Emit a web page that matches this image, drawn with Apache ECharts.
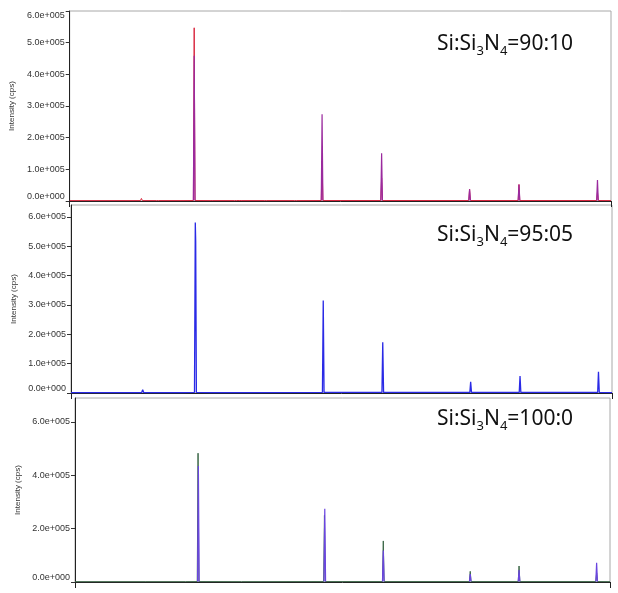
<!DOCTYPE html>
<html>
<head>
<meta charset="utf-8">
<script src="https://cdn.jsdelivr.net/npm/echarts@6/dist/echarts.min.js"></script>
<style>
  html, body { margin: 0; padding: 0; background: #fff; }
  #chart { width: 618px; height: 593px; }
</style>
</head>
<body>
<div id="chart"></div>
<script>
// 2-theta range of every scan
const xMin = 10;
const xMax = 90;

// Si:Si3N4 = 90:10  (red scan, full range)
const red9010 = [
  [10, 1200], [20.45, 1300], [20.6, 8000], [20.75, 1300], [22.85, 1300], [23.0, 3000], [23.15, 1300],
  [26.45, 1300], [26.6, 2500], [26.75, 1300],
  [28.28, 1500], [28.4, 547000], [28.52, 1500],
  [30.75, 1300], [30.9, 7000], [31.05, 1300], [34.35, 1300], [34.5, 5000], [34.65, 1500],
  [35.15, 1500], [35.3, 6000], [35.45, 1300], [38.75, 1300], [38.9, 3500], [39.05, 1300],
  [43.25, 1300], [43.4, 3000], [43.55, 1300],
  [47.18, 1500], [47.3, 124000], [47.42, 1500],
  [55.98, 1500], [56.1, 72000], [56.22, 1500],
  [68.98, 1500], [69.1, 37000], [69.22, 1500],
  [76.28, 1500], [76.4, 52000], [76.52, 1500],
  [87.88, 1500], [88.0, 28000], [88.12, 1500], [90, 1300]
];
// 90:10 purple scan, only read around the Si peaks
const purple9010 = [
  [28.28, 2000], [28.4, 459000], [28.52, 2000], [28.7, '-'],
  [47.18, 2000], [47.3, 274000], [47.42, 2000], [47.6, '-'],
  [55.98, 2000], [56.1, 151000], [56.22, 2000], [56.4, '-'],
  [68.98, 2000], [69.1, 37000], [69.22, 2000], [69.4, '-'],
  [76.28, 2000], [76.4, 52000], [76.52, 2000], [76.7, '-'],
  [87.88, 2000], [88.0, 66000], [88.12, 2000]
];

// Si:Si3N4 = 95:05  (blue scan)
const blue9505 = [
  [10, 1500], [20.45, 1500], [20.6, 11000], [20.75, 1500], [26.5, 1500], [26.6, 3000], [26.7, 1500],
  [28.26, 2000], [28.38, 580000], [28.44, 515000], [28.54, 2000],
  [30.8, 1500], [30.9, 4000], [31.0, 1500], [34.4, 1500], [34.5, 3000], [34.6, 1500],
  [35.2, 1500], [35.3, 3500], [35.4, 1500],
  [47.18, 2000], [47.3, 315000], [47.42, 2000],
  [55.98, 2000], [56.1, 173000], [56.22, 2000],
  [68.98, 2000], [69.1, 38000], [69.22, 2000],
  [76.28, 2000], [76.4, 58000], [76.52, 2000],
  [87.88, 2000], [88.0, 72000], [88.12, 2000], [90, 1500]
];

// Si:Si3N4 = 100:0  (green scan, full range)
const green1000 = [
  [10, 1200], [20.6, 1200], [20.7, 3000], [20.8, 1200], [26.5, 1200], [26.6, 2500], [26.7, 1200],
  [28.28, 1500], [28.4, 483000], [28.52, 1500],
  [34.9, 1200], [35.0, 2500], [35.1, 1200],
  [47.18, 1500], [47.3, 250000], [47.42, 1500],
  [55.98, 1500], [56.1, 154000], [56.22, 1500],
  [68.98, 1500], [69.1, 40000], [69.22, 1500],
  [76.28, 1500], [76.4, 60000], [76.52, 1500],
  [87.88, 1500], [88.0, 34000], [88.12, 1500], [90, 1200]
];
// 100:0 violet scan, only read around the Si peaks
const violet1000 = [
  [28.33, 2000], [28.45, 435000], [28.57, 2000], [28.7, '-'],
  [47.23, 2000], [47.35, 275000], [47.47, 2000], [47.6, '-'],
  [55.98, 2000], [56.1, 118000], [56.22, 2000], [56.4, '-'],
  [68.98, 2000], [69.1, 30000], [69.22, 2000], [69.4, '-'],
  [76.28, 2000], [76.4, 45000], [76.52, 2000], [76.7, '-'],
  [87.88, 2000], [88.0, 72000], [88.12, 2000]
];

// y axis ranges of the three panels
const yMax = [600000, 640000, 690000];
const yStep = [100000, 100000, 200000];
const ratioText = ['90:10', '95:05', '100:0'];

// 6.0e+005 style labels
function sciLabel(v) {
  const parts = v.toExponential(1).split('e');
  const exp = parts[1];
  return parts[0] + 'e' + exp[0] + exp.slice(1).padStart(3, '0');
}

const grids = [
  { left: 69, top: 11, width: 542, height: 190 },
  { left: 71, top: 205, width: 541, height: 188 },
  { left: 75, top: 398, width: 535, height: 184 }
];
const nameGaps = [49, 49, 50];
const labelY = [47, 238, 422];

let myChart = echarts.init(document.getElementById('chart'));

myChart.setOption({
  animation: false,
  grid: grids.map(g => Object.assign({
    show: true,
    borderColor: '#a8a8a8',
    borderWidth: 1,
    containLabel: false
  }, g)),
  xAxis: grids.map((g, i) => ({
    type: 'value',
    gridIndex: i,
    min: xMin,
    max: xMax,
    interval: 80,
    axisLine: { show: true, lineStyle: { color: '#222', width: 1 } },
    axisTick: { show: true, length: 6, lineStyle: { color: '#222' } },
    axisLabel: { show: false },
    splitLine: { show: false }
  })),
  yAxis: grids.map((g, i) => ({
    type: 'value',
    gridIndex: i,
    min: 0,
    max: yMax[i],
    interval: yStep[i],
    name: 'Intensity (cps)',
    nameLocation: 'middle',
    nameGap: nameGaps[i],
    nameTextStyle: { fontSize: 8, color: '#333', fontFamily: 'Liberation Sans' },
    axisLine: { show: true, lineStyle: { color: '#222', width: 1 } },
    axisTick: { show: true, length: 4, lineStyle: { color: '#333' } },
    axisLabel: {
      formatter: sciLabel,
      fontSize: 9,
      color: '#333',
      fontFamily: 'Liberation Sans',
      margin: 5,
      showMaxLabel: i === 0,
      verticalAlignMinLabel: 'bottom',
      verticalAlignMaxLabel: i === 0 ? 'top' : null
    },
    splitLine: { show: false }
  })),
  // sample ratio labels
  graphic: ratioText.map((t, i) => ({
    type: 'text',
    left: 437,
    top: labelY[i] - 13,
    style: {
      text: '{a|Si:Si}{s|3}{a|N}{s|4}{a|=' + t + '}',
      rich: {
        a: { fontSize: 21, fontFamily: 'Noto Sans', fill: '#111', lineHeight: 26, verticalAlign: 'middle' },
        s: { fontSize: 13, fontFamily: 'Noto Sans', fill: '#111', lineHeight: 13, verticalAlign: 'bottom' }
      }
    }
  })),
  series: [
    { type: 'line', xAxisIndex: 0, yAxisIndex: 0, data: red9010, showSymbol: false,
      lineStyle: { color: '#d8243c', width: 1 }, z: 2 },
    { type: 'line', xAxisIndex: 0, yAxisIndex: 0, data: purple9010, showSymbol: false,
      lineStyle: { color: '#9a2a9e', width: 1.2 }, z: 3 },
    { type: 'line', xAxisIndex: 1, yAxisIndex: 1, data: blue9505, showSymbol: false,
      lineStyle: { color: '#2a2ae6', width: 1.3 }, z: 2 },
    { type: 'line', xAxisIndex: 2, yAxisIndex: 2, data: green1000, showSymbol: false,
      lineStyle: { color: '#3a6646', width: 1 }, z: 2 },
    { type: 'line', xAxisIndex: 2, yAxisIndex: 2, data: violet1000, showSymbol: false,
      lineStyle: { color: '#6a45e0', width: 1.2 }, z: 3 }
  ]
});
</script>
</body>
</html>
